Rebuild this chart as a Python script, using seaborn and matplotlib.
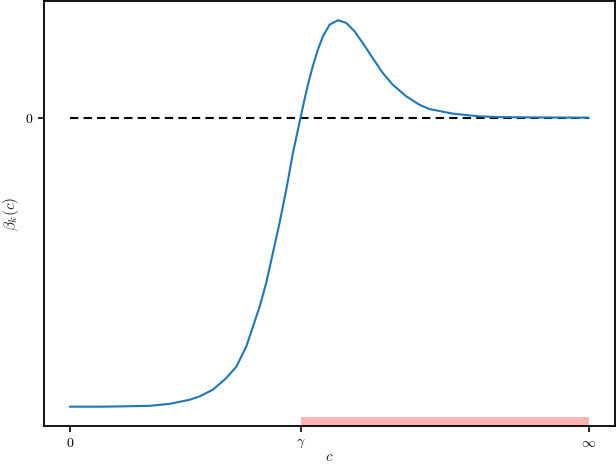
import numpy as np
import pandas as pd
import seaborn as sns
import matplotlib.pyplot as plt

# points (x: 0 -> gamma=1 -> inf=2.25)
c_vals = [0.0, 0.130, 0.216, 0.346, 0.433, 0.519, 0.563, 0.620, 0.678, 0.722,
          0.765, 0.794, 0.823, 0.851, 0.880, 0.909, 0.938, 0.967, 1.0, 1.017,
          1.032, 1.053, 1.075, 1.097, 1.126, 1.162, 1.198, 1.234, 1.270, 1.313,
          1.356, 1.400, 1.458, 1.515, 1.558, 1.659, 1.775, 1.861, 2.035, 2.25]
beta_vals = [-1.0, -1.0, -0.999, -0.997, -0.990, -0.976, -0.964, -0.941, -0.901, -0.861,
             -0.791, -0.722, -0.653, -0.572, -0.468, -0.364, -0.249, -0.122, 0.0, 0.062,
             0.114, 0.178, 0.235, 0.281, 0.322, 0.337, 0.328, 0.299, 0.258, 0.206,
             0.155, 0.114, 0.074, 0.045, 0.030, 0.014, 0.0045, 0.002, 0.0007, 0.0]

gamma = 1.0
c_inf = 2.25
x_ticks = [0, gamma, c_inf]
x_ticklabels = [r'$0$', r'$\gamma$', r'$\infty$']

df = pd.DataFrame({'c': c_vals, 'beta': beta_vals})

sns.set_theme(style="ticks")
plt.rcParams['mathtext.fontset'] = 'cm'
plt.rcParams['font.family'] = ['DejaVu Serif']

fig, ax = plt.subplots(figsize=(6.16, 4.68), dpi=100)
fig.subplots_adjust(left=0.0714, right=0.998, bottom=0.0897, top=0.998)

ax.plot([0, c_inf], [0, 0], color='black', linestyle='--', linewidth=1.5, dashes=(4, 2.5))
sns.lineplot(data=df, x='c', y='beta', ax=ax, color='#1f77b4', linewidth=1.5)
ax.axvspan(gamma, c_inf, ymin=0, ymax=0.021, color='#ffb4b4', linewidth=0)

ax.set_xticks(x_ticks)
ax.set_xticklabels(x_ticklabels)
ax.set_yticks([0])
ax.set_yticklabels([r'$0$'])
ax.set_xlabel(r'$c$', fontsize=11, labelpad=0)
ax.set_ylabel(r'$\beta_k(c)$', fontsize=11, labelpad=3)
ax.tick_params(axis='both', length=4, width=1.2, labelsize=10, color='black', labelcolor='black')
for s in ax.spines.values():
    s.set_linewidth(1.3)
    s.set_color('black')

plt.savefig('out.png', dpi=100)
